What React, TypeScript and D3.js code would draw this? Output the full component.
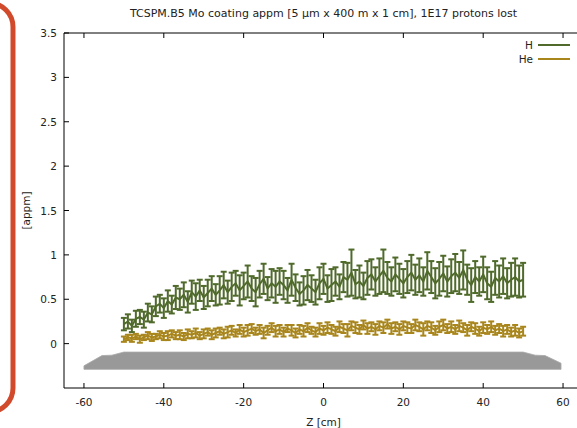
import React from "react";
import * as d3 from "d3";

const W = 577;
const H = 428;

const zValues: number[] = d3.range(-50, 51, 1);

const hValues: number[] = [
  0.22, 0.25, 0.20, 0.28, 0.30, 0.27, 0.35, 0.33, 0.42, 0.45,
  0.40, 0.48, 0.44, 0.52, 0.50, 0.55, 0.47, 0.58, 0.53, 0.60,
  0.52, 0.57, 0.62, 0.55, 0.60, 0.66, 0.58, 0.64, 0.68, 0.60,
  0.65, 0.70, 0.62, 0.58, 0.67, 0.73, 0.62, 0.68, 0.64, 0.70,
  0.66, 0.60, 0.72, 0.63, 0.56, 0.60, 0.66, 0.62, 0.58, 0.68,
  0.73, 0.62, 0.66, 0.70, 0.64, 0.75, 0.72, 0.80, 0.67, 0.70,
  0.65, 0.74, 0.78, 0.70, 0.76, 0.82, 0.74, 0.70, 0.78, 0.73,
  0.68, 0.75, 0.80, 0.72, 0.77, 0.70, 0.82, 0.75, 0.68, 0.73,
  0.79, 0.70, 0.76, 0.80, 0.74, 0.83, 0.72, 0.66, 0.75, 0.70,
  0.78, 0.68, 0.64, 0.74, 0.70, 0.76, 0.68, 0.72, 0.75, 0.70,
  0.72,
];

const hErrors: number[] = [
  0.07, 0.08, 0.07, 0.09, 0.08, 0.09, 0.10, 0.09, 0.11, 0.10,
  0.11, 0.12, 0.10, 0.13, 0.12, 0.14, 0.12, 0.13, 0.15, 0.12,
  0.13, 0.15, 0.14, 0.12, 0.16, 0.15, 0.13, 0.16, 0.14, 0.17,
  0.15, 0.18, 0.14, 0.16, 0.15, 0.17, 0.13, 0.16, 0.18, 0.15,
  0.16, 0.14, 0.18, 0.15, 0.13, 0.16, 0.17, 0.15, 0.14, 0.18,
  0.17, 0.15, 0.18, 0.16, 0.14, 0.17, 0.19, 0.26, 0.16, 0.18,
  0.15, 0.19, 0.17, 0.16, 0.20, 0.24, 0.18, 0.16, 0.19, 0.17,
  0.16, 0.18, 0.20, 0.17, 0.19, 0.16, 0.21, 0.18, 0.17, 0.19,
  0.20, 0.17, 0.19, 0.21, 0.18, 0.22, 0.17, 0.19, 0.18, 0.16,
  0.20, 0.18, 0.17, 0.19, 0.18, 0.20, 0.17, 0.19, 0.21, 0.18,
  0.19,
];

const heValues: number[] = [
  0.05, 0.07, 0.06, 0.08, 0.05, 0.07, 0.09, 0.07, 0.08, 0.10,
  0.08, 0.09, 0.11, 0.09, 0.10, 0.08, 0.11, 0.10, 0.12, 0.09,
  0.11, 0.13, 0.10, 0.12, 0.14, 0.11, 0.13, 0.15, 0.12, 0.16,
  0.13, 0.15, 0.17, 0.14, 0.16, 0.12, 0.15, 0.18, 0.14, 0.16,
  0.13, 0.17, 0.15, 0.12, 0.16, 0.14, 0.18, 0.15, 0.13, 0.17,
  0.15, 0.18, 0.16, 0.14, 0.19, 0.17, 0.15, 0.20, 0.18, 0.16,
  0.21, 0.17, 0.19, 0.16, 0.20, 0.18, 0.22, 0.17, 0.19, 0.16,
  0.20, 0.18, 0.17, 0.21, 0.19, 0.16, 0.20, 0.18, 0.15, 0.19,
  0.21, 0.17, 0.19, 0.16, 0.20, 0.18, 0.15, 0.19, 0.17, 0.14,
  0.18, 0.16, 0.19, 0.15, 0.17, 0.14, 0.16, 0.13, 0.15, 0.12,
  0.14,
];

const heErrors: number[] = [
  0.03, 0.03, 0.04, 0.03, 0.04, 0.03, 0.04, 0.04, 0.03, 0.04,
  0.04, 0.05, 0.04, 0.04, 0.05, 0.04, 0.05, 0.04, 0.05, 0.04,
  0.05, 0.04, 0.05, 0.05, 0.04, 0.05, 0.06, 0.05, 0.04, 0.05,
  0.05, 0.06, 0.05, 0.04, 0.05, 0.06, 0.05, 0.05, 0.06, 0.05,
  0.05, 0.04, 0.06, 0.05, 0.05, 0.06, 0.05, 0.04, 0.05, 0.06,
  0.05, 0.06, 0.05, 0.05, 0.06, 0.05, 0.07, 0.05, 0.06, 0.05,
  0.05, 0.06, 0.05, 0.06, 0.05, 0.06, 0.05, 0.06, 0.05, 0.06,
  0.05, 0.06, 0.05, 0.06, 0.05, 0.07, 0.05, 0.06, 0.05, 0.06,
  0.06, 0.05, 0.06, 0.05, 0.06, 0.05, 0.06, 0.05, 0.06, 0.05,
  0.06, 0.05, 0.06, 0.05, 0.05, 0.06, 0.05, 0.05, 0.06, 0.05,
  0.05,
];

// Gray geometry outline (z [cm], appm)
const shapeZ: number[] = [-60, -60, -55.5, -53, -50, 50, 53, 55.5, 59.5, 59.5];
const shapeY: number[] = [-0.29, -0.25, -0.135, -0.13, -0.095, -0.095, -0.13, -0.135, -0.22, -0.29];

const xTicks: number[] = [-60, -40, -20, 0, 20, 40, 60];
const yTicks: number[] = [0, 0.5, 1, 1.5, 2, 2.5, 3, 3.5];

const seriesNames: string[] = ["H", "He"];
const seriesColors: string[] = ["#4f6a2a", "#a9861c"];

const TITLE = "TCSPM.B5 Mo coating appm [5 µm x 400 m x 1 cm], 1E17 protons lost";
const X_LABEL = "Z [cm]";
const Y_LABEL = "[appm]";

const FONT = "'DejaVu Sans', sans-serif";

export default function App() {
  const left = 64;
  const right = 583;
  const top = 33;
  const bottom = 388;

  const x = d3.scaleLinear().domain([-65, 65]).range([left, right]);
  const y = d3.scaleLinear().domain([-0.5, 3.5]).range([bottom, top]);

  const line = d3
    .line<number>()
    .x((_, i) => x(zValues[i]))
    .y((d) => y(d));

  const shapePts: [number, number][] = shapeZ.map((z, i) => [x(z), y(shapeY[i])]);
  const shapePath = d3.line().curve(d3.curveLinearClosed)(shapePts) || "";

  const series = [
    { vals: hValues, errs: hErrors, color: seriesColors[0] },
    { vals: heValues, errs: heErrors, color: seriesColors[1] },
  ];

  const cap = 3;
  const tickLen = 5;
  const lw = 2;

  return (
    <svg
      width={W}
      height={H}
      style={{ position: "absolute", left: 0, top: 0, background: "#fff" }}
      fontFamily={FONT}
    >
      <rect x={0} y={0} width={W} height={H} fill="#fff" />
      {/* red frame artifact */}
      <rect x={-40} y={3} width={53} height={409} rx={24} ry={24} fill="none" stroke="#d24a2c" strokeWidth={5} />

      {/* gray shape */}
      <path d={shapePath} fill="#999999" stroke="#aaaaaa" strokeWidth={0.8} />

      {/* series */}
      {series.map((s, si) => (
        <g key={si} stroke={s.color} strokeWidth={lw} fill="none">
          {s.vals.map((v, i) => {
            const cx = x(zValues[i]);
            const y0 = y(v - s.errs[i]);
            const y1 = y(v + s.errs[i]);
            return (
              <g key={i}>
                <line x1={cx} x2={cx} y1={y0} y2={y1} />
                <line x1={cx - cap} x2={cx + cap} y1={y0} y2={y0} />
                <line x1={cx - cap} x2={cx + cap} y1={y1} y2={y1} />
              </g>
            );
          })}
          <path d={line(s.vals) || ""} strokeWidth={lw} />
        </g>
      ))}

      {/* axes frame */}
      <g stroke="#000" strokeWidth={1} fill="none">
        <line x1={left} x2={left} y1={top} y2={bottom} />
        <line x1={left} x2={right} y1={bottom} y2={bottom} />
        <line x1={left} x2={right} y1={top} y2={top} />
        <line x1={right} x2={right} y1={top} y2={bottom} />
        {xTicks.map((t) => (
          <g key={"xt" + t}>
            <line x1={x(t)} x2={x(t)} y1={bottom} y2={bottom - tickLen} />
            <line x1={x(t)} x2={x(t)} y1={top} y2={top + tickLen} />
          </g>
        ))}
        {yTicks.map((t) => (
          <g key={"yt" + t}>
            <line x1={left} x2={left + tickLen} y1={y(t)} y2={y(t)} />
            <line x1={right} x2={right - tickLen} y1={y(t)} y2={y(t)} />
          </g>
        ))}
      </g>

      <g fontSize={10.5} fill="#222">
        {xTicks.map((t) => (
          <text key={"xl" + t} x={x(t)} y={bottom + 18} textAnchor="middle">
            {t}
          </text>
        ))}
        {yTicks.map((t) => (
          <text key={"yl" + t} x={left - 7} y={y(t) + 4} textAnchor="end">
            {t}
          </text>
        ))}
      </g>

      <text x={(left + right) / 2} y={17} textAnchor="middle" fontSize={11} fill="#222">
        {TITLE}
      </text>
      <text x={x(0)} y={426} textAnchor="middle" fontSize={10.5} fill="#222">
        {X_LABEL}
      </text>
      <text
        transform={`translate(30, ${(top + bottom) / 2}) rotate(-90)`}
        textAnchor="middle"
        fontSize={10.5}
        fill="#222"
      >
        {Y_LABEL}
      </text>

      {/* legend */}
      {seriesNames.map((n, i) => (
        <g key={n}>
          <text x={533} y={49 + i * 14} textAnchor="end" fontSize={10.5} fill="#222">
            {n}
          </text>
          <line x1={538} x2={570} y1={45 + i * 14} y2={45 + i * 14} stroke={seriesColors[i]} strokeWidth={lw} />
        </g>
      ))}
    </svg>
  );
}
